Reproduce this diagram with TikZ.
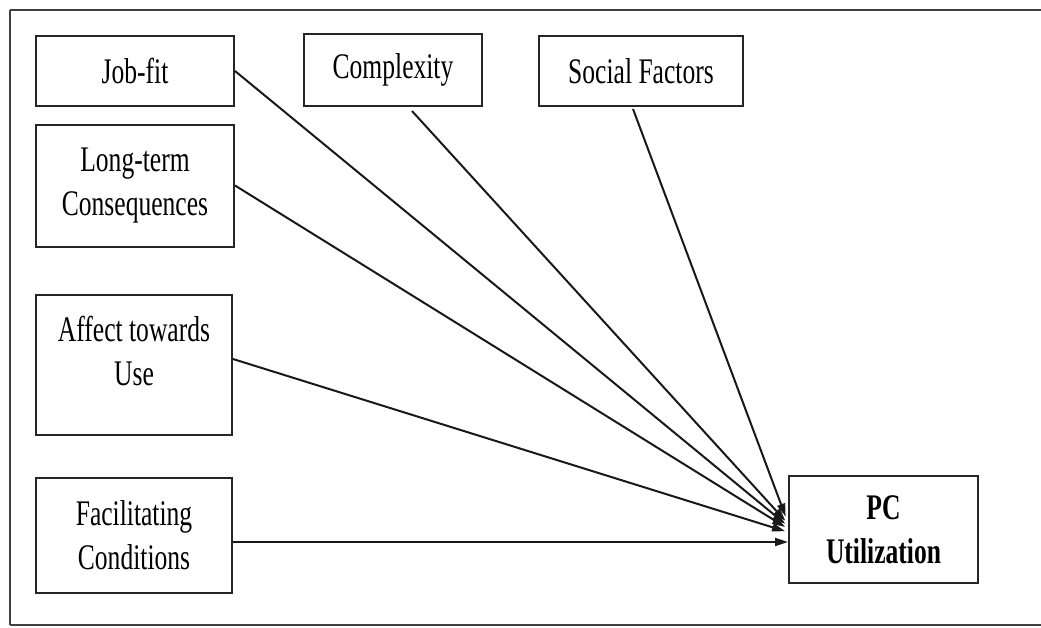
\documentclass[tikz,border=0pt]{standalone}
\usepackage{fontspec}
\setmainfont{Liberation Serif}[FakeStretch=0.71]
\usetikzlibrary{arrows.meta,calc}
\begin{document}
\begin{tikzpicture}[x=1pt,y=-1pt,
  box/.style={draw=black!85, line width=2pt, rectangle, inner sep=0pt, align=center,
    font=\fontsize{36}{44}\selectfont},
  txt/.style={inner sep=0pt, align=center, font=\fontsize{36}{44}\selectfont},
  conn/.style={draw=black!90, line width=2pt, -{Triangle[length=13pt,width=8pt]}, shorten >=1pt}]
\useasboundingbox (0,0) rectangle (1041,627);
\draw[black!75, line width=1.6pt] (10,10) -- (1045,10);
\draw[black!75, line width=1.6pt] (10,10) -- (10,625);
\draw[black!75, line width=1.6pt] (10,625) -- (1045,625);
% boxes
\node[box, minimum width=198pt, minimum height=70pt] (jobfit) at (135,71) {Job-fit};
\node[box, minimum width=198pt, minimum height=122pt] (longterm) at (135,185.5) {Long-term\\Consequences};
\node[box, minimum width=178pt, minimum height=72pt] (complexity) at (393,70) {Complexity};
\node[box, minimum width=204pt, minimum height=70pt] (social) at (641,71) {Social Factors};
\node[box, minimum width=196pt, minimum height=140pt] (affect) at (134,365) {};
\node[txt] (affecttext) at (134,351) {Affect towards\\Use};
\node[box, minimum width=196pt, minimum height=115pt] (facil) at (134,535.5) {Facilitating\\Conditions};
\node[box, minimum width=189pt, minimum height=107pt] (pc) at (883.5,529.5) {\bfseries PC\\\bfseries Utilization};
% start and end points
\coordinate (sComp) at ($(complexity.south)+(19,4)$);
\coordinate (sSoc) at ($(social.south)+(-8,2)$);
\coordinate (sAff) at ($(affect.east)+(0,-6)$);
\coordinate (sFac) at ($(facil.east)+(0,6.5)$);
\coordinate (eSoc) at ($(pc.west)+(-2,-12)$);
\coordinate (eComp) at ($(pc.west)+(-2,-8)$);
\coordinate (eJob) at ($(pc.west)+(-2,-5)$);
\coordinate (eLong) at ($(pc.west)+(-2,-2)$);
\coordinate (eAff) at ($(pc.west)+(-2,2)$);
\coordinate (eFac) at ($(pc.west)+(1,12.5)$);
% connectors
\draw[conn] (jobfit.east) -- (eJob);
\draw[conn] (longterm.east) -- (eLong);
\draw[conn] (sComp) -- (eComp);
\draw[conn] (sSoc) -- (eSoc);
\draw[conn] (sAff) -- (eAff);
\draw[conn] (sFac) -- (eFac);
\end{tikzpicture}
\end{document}
